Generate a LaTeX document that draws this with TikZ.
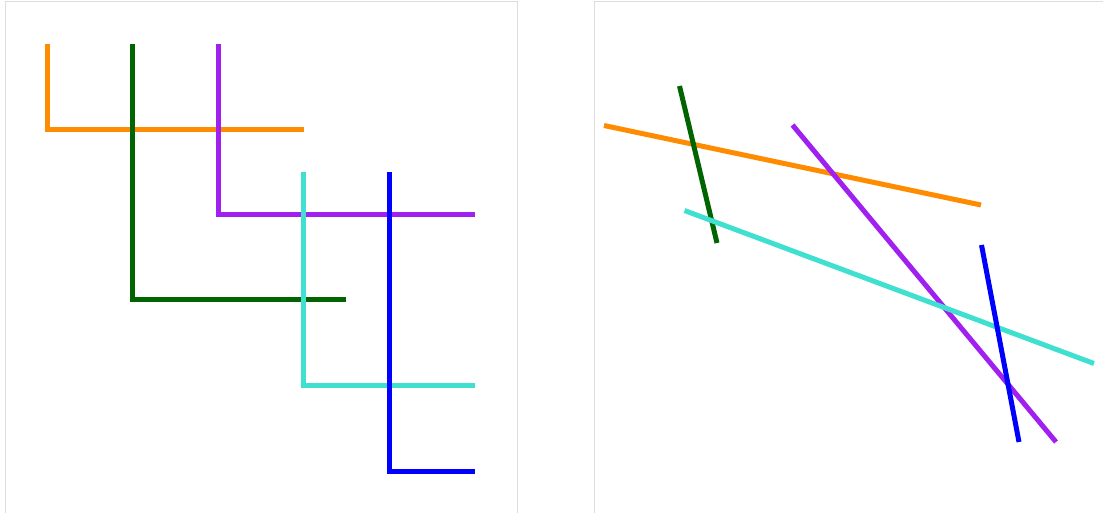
\documentclass[tikz,border=0pt]{standalone}
\usepackage{tikz}
\usetikzlibrary{positioning}
\definecolor{lineorange}{HTML}{FF8C00}
\definecolor{linegreen}{HTML}{006400}
\definecolor{linepurple}{HTML}{A020F0}
\definecolor{lineturq}{HTML}{40E0D0}
\definecolor{lineblue}{HTML}{0000FF}
\definecolor{panelgray}{HTML}{DDDDDD}

\begin{document}
\begin{tikzpicture}[
    x=1pt, y=-1pt,
    panel/.style={draw=panelgray, line width=1pt},
    seg/.style={line width=5pt, line join=miter}
]
    \useasboundingbox (0,0) rectangle (1103,512);

    % panel frames
    \draw[panel] (5,520) -- (5,1) -- (517,1) -- (517,520);
    \draw[panel] (594,520) -- (594,1) -- (1110,1);

    % left panel: L-shaped lines
    \coordinate (oTop) at (47.5,44);   \coordinate (oCorner) at (47.5,129);  \coordinate (oEnd) at (303.5,129);
    \coordinate (gTop) at (132.5,44);  \coordinate (gCorner) at (132.5,299); \coordinate (gEnd) at (345.5,299);
    \coordinate (pTop) at (218.5,44);  \coordinate (pCorner) at (218.5,214); \coordinate (pEnd) at (474.5,214);
    \coordinate (tTop) at (303.5,172); \coordinate (tCorner) at (303.5,385); \coordinate (tEnd) at (474.5,385);
    \coordinate (bTop) at (389.5,172); \coordinate (bCorner) at (389.5,471); \coordinate (bEnd) at (474.5,471);
    \draw[seg, lineorange] (oTop) -- (oCorner) -- (oEnd);
    \draw[seg, linegreen] (gTop) -- (gCorner) -- (gEnd);
    \draw[seg, linepurple] (pTop) -- (pCorner) -- (pEnd);
    \draw[seg, lineturq] (tTop) -- (tCorner) -- (tEnd);
    \draw[seg, lineblue] (bTop) -- (bCorner) -- (bEnd);

    % right panel: straight segments
    \coordinate (oA) at (604,125.5); \coordinate (oB) at (981,205);
    \coordinate (gA) at (679.5,86);  \coordinate (gB) at (717,243);
    \coordinate (pA) at (792.5,125); \coordinate (pB) at (1056,442);
    \coordinate (tA) at (684.5,210.5); \coordinate (tB) at (1094,363.5);
    \coordinate (bA) at (981.5,245); \coordinate (bB) at (1019,442);
    \draw[seg, lineorange] (oA) -- (oB);
    \draw[seg, linegreen] (gA) -- (gB);
    \draw[seg, linepurple] (pA) -- (pB);
    \draw[seg, lineturq] (tA) -- (tB);
    \draw[seg, lineblue] (bA) -- (bB);
\end{tikzpicture}
\end{document}
